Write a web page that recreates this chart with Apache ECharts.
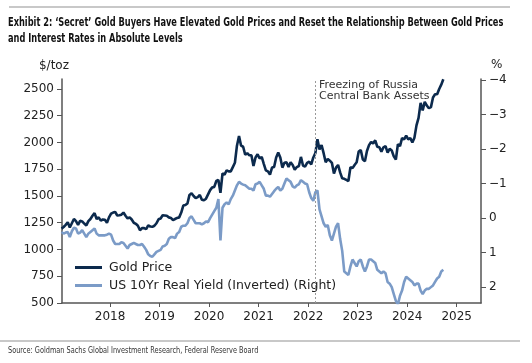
<!DOCTYPE html>
<html>
<head>
<meta charset="utf-8">
<script src="https://cdn.jsdelivr.net/npm/echarts@6/dist/echarts.min.js"></script>
<style>html,body{margin:0;padding:0;background:#fff;}#c{width:532px;height:363px;}</style>
</head>
<body>
<div id="c"></div>
<script>
// Semi-monthly observations, Jan 2017 (first half) to Sep 2024 (second half)
const startYear = 2017;
const goldPrice = [
  // 2017
  1195,1210, 1230,1255, 1205,1245, 1285,1265, 1230,1268, 1262,1242, 1225,1265, 1285,1315, 1340,1285, 1300,1270, 1280,1278, 1250,1300,
  // 2018
  1335,1345, 1350,1318, 1320,1325, 1345,1315, 1290,1300, 1280,1250, 1240,1222, 1180,1200, 1200,1190, 1225,1215, 1212,1222, 1245,1282,
  // 2019
  1290,1320, 1318,1315, 1300,1295, 1275,1285, 1295,1300, 1345,1410, 1415,1430, 1510,1525, 1500,1480, 1490,1510, 1465,1460, 1475,1515,
  // 2020
  1555,1580, 1585,1640, 1650,1530, 1710,1700, 1740,1730, 1730,1770, 1810,1970, 2060,1970, 1960,1885, 1900,1880, 1880,1780, 1860,1890,
  // 2021
  1850,1865, 1800,1740, 1730,1700, 1765,1770, 1860,1905, 1860,1765, 1810,1815, 1770,1815, 1790,1745, 1770,1780, 1865,1785, 1775,1810,
  // 2022
  1820,1795, 1860,1900, 2030,1935, 1975,1900, 1815,1845, 1830,1810, 1710,1765, 1790,1720, 1665,1660, 1650,1640, 1770,1760, 1790,1815,
  // 2023
  1915,1930, 1840,1825, 1920,1975, 2005,1990, 2020,1960, 1955,1915, 1955,1965, 1905,1940, 1925,1870, 1840,1985, 1965,2040, 2030,2065,
  // 2024
  2030,2040, 2000,2045, 2160,2230, 2370,2300, 2380,2345, 2320,2330, 2420,2450, 2450,2500, 2540,2590
];
const realYield = [
  // 2017
  0.40,0.45, 0.42,0.40, 0.55,0.38, 0.28,0.30, 0.45,0.42, 0.35,0.45, 0.55,0.45, 0.40,0.35, 0.30,0.45, 0.50,0.50, 0.50,0.50, 0.48,0.45,
  // 2018
  0.48,0.65, 0.75,0.75, 0.75,0.70, 0.72,0.80, 0.88,0.78, 0.75,0.72, 0.75,0.78, 0.78,0.75, 0.83,0.92, 1.05,1.10, 1.12,1.05, 0.98,0.95,
  // 2019
  0.92,0.82, 0.80,0.75, 0.60,0.55, 0.55,0.58, 0.45,0.40, 0.25,0.22, 0.22,0.15, 0.00,-0.05, 0.05,0.15, 0.15,0.15, 0.18,0.15, 0.10,0.12,
  // 2020
  0.00,-0.10, -0.20,-0.30, -0.55,0.65, -0.30,-0.40, -0.45,-0.40, -0.55,-0.65, -0.80,-0.95, -1.05,-1.00, -0.97,-0.95, -0.90,-0.85, -0.85,-0.80, -0.98,-1.00,
  // 2021
  -1.05,-0.95, -0.85,-0.65, -0.65,-0.62, -0.70,-0.78, -0.85,-0.90, -0.80,-0.85, -1.00,-1.15, -1.10,-1.05, -0.92,-0.88, -0.95,-0.98, -1.10,-1.05, -1.00,-0.98,
  // 2022
  -0.75,-0.58, -0.50,-0.75, -0.80,-0.25, -0.05,0.15, 0.25,0.20, 0.50,0.65, 0.45,0.25, 0.15,0.60, 0.95,1.55, 1.60,1.65, 1.40,1.20, 1.30,1.40,
  // 2023
  1.25,1.20, 1.40,1.55, 1.40,1.20, 1.20,1.25, 1.30,1.50, 1.55,1.60, 1.55,1.60, 1.85,1.90, 2.00,2.20, 2.40,2.50, 2.25,2.10, 1.85,1.70,
  // 2024
  1.75,1.80, 1.85,1.95, 1.90,1.90, 2.10,2.20, 2.10,2.05, 2.05,2.00, 1.95,1.85, 1.75,1.70, 1.55,1.50
];
const xTicks = [2018, 2019, 2020, 2021, 2022, 2023, 2024, 2025];
const goldTicks = [500, 750, 1000, 1250, 1500, 1750, 2000, 2250, 2500];
const yieldTicks = [-4, -3, -2, -1, 0, 1, 2];
const eventDate = 2022.15;
const eventText = 'Freezing of Russia\nCentral Bank Assets';
const titleLines = "Exhibit 2: \u2018Secret\u2019 Gold Buyers Have Elevated Gold Prices and Reset the Relationship Between Gold Prices\nand Interest Rates in Absolute Levels";
const sourceText = 'Source: Goldman Sachs Global Investment Research, Federal Reserve Board';

const xOf = i => startYear + (i + 0.5) / 24;
const goldData = goldPrice.map((v, i) => [xOf(i), v]);
const yieldData = realYield.map((v, i) => [xOf(i), v]);

const axisCol = '#555';
const lbl = {color: '#222', fontFamily: 'DejaVu Sans', fontSize: 12};
const chart = echarts.init(document.getElementById('c'), null, {renderer: 'canvas'});
chart.setOption({
  animation: false,
  backgroundColor: '#fff',
  grid: {left: 62, right: 51, top: 79, bottom: 60},
  legend: {
    orient: 'vertical', left: 70, top: 256, itemWidth: 27, itemHeight: 3, itemGap: 5,
    icon: 'rect',
    textStyle: {color: '#222', fontFamily: 'DejaVu Sans', fontSize: 12.5, padding: [0, 0, 0, 2]},
    data: ['Gold Price', 'US 10Yr Real Yield (Inverted) (Right)']
  },
  xAxis: {
    type: 'value', min: 2017.03, max: 2025.49,
    splitLine: {show: false},
    axisLine: {onZero: false, lineStyle: {color: axisCol, width: 1.5}},
    axisTick: {customValues: xTicks, length: 4, lineStyle: {color: axisCol}},
    axisLabel: Object.assign({customValues: xTicks, formatter: v => String(v), margin: 8}, lbl)
  },
  yAxis: [{
    type: 'value', min: 500, max: 2593, position: 'left',
    name: '$/toz', nameLocation: 'end', nameGap: 7,
    nameTextStyle: {color: '#222', fontFamily: 'DejaVu Sans', fontSize: 12, align: 'right', padding: [0, -7, 0, 0]},
    splitLine: {show: false},
    axisLine: {show: true, onZero: false, lineStyle: {color: axisCol, width: 1.5}},
    axisTick: {show: true, customValues: goldTicks, length: 5, lineStyle: {color: axisCol}},
    axisLabel: Object.assign({customValues: goldTicks, formatter: v => String(v), margin: 8}, lbl)
  }, {
    type: 'value', min: -4.03, max: 2.46, inverse: true, position: 'right',
    name: '%', nameLocation: 'start', nameGap: 8,
    nameTextStyle: {color: '#222', fontFamily: 'DejaVu Sans', fontSize: 12, align: 'left', padding: [0, 0, 0, 10]},
    splitLine: {show: false},
    axisLine: {show: true, onZero: false, lineStyle: {color: axisCol, width: 1.5}},
    axisTick: {show: true, customValues: yieldTicks, length: 5, lineStyle: {color: axisCol}},
    axisLabel: Object.assign({customValues: yieldTicks, formatter: v => v < 0 ? '\u2212' + Math.abs(v) : String(v), margin: 8}, lbl)
  }],
  series: [{
    name: 'Gold Price', type: 'line', yAxisIndex: 0, data: goldData, z: 3,
    symbol: 'none', itemStyle: {color: '#0c2a4d'}, lineStyle: {color: '#0c2a4d', width: 2.6},
    markLine: {
      silent: true, symbol: 'none', label: {show: false},
      lineStyle: {color: '#999', type: [2, 2], width: 1},
      data: [{xAxis: eventDate}]
    }
  }, {
    name: 'US 10Yr Real Yield (Inverted) (Right)', type: 'line', yAxisIndex: 1, data: yieldData, z: 2,
    symbol: 'none', itemStyle: {color: '#7b9bc7'}, lineStyle: {color: '#7b9bc7', width: 2.6}
  }],
  graphic: [
    {type: 'rect', shape: {x: 9, y: 6, width: 501, height: 2}, style: {fill: '#c8c8c8'}},
    {type: 'text', x: 8, y: 15, scaleX: 0.765, style: {text: titleLines, font: 'bold 12px "Liberation Sans Narrow", "DejaVu Sans Condensed", sans-serif', fill: '#111', lineHeight: 16}},
    {type: 'text', left: 319, top: 80, style: {text: eventText, font: '11px "DejaVu Sans"', fill: '#333', lineHeight: 11}},
    {type: 'rect', shape: {x: 0, y: 340, width: 520, height: 2}, style: {fill: '#c8c8c8'}},
    {type: 'text', x: 8, y: 346, scaleX: 0.81, style: {text: sourceText, font: '9px "Liberation Sans Narrow", "DejaVu Sans Condensed", sans-serif', fill: '#333'}}
  ]
});
</script>
</body>
</html>
